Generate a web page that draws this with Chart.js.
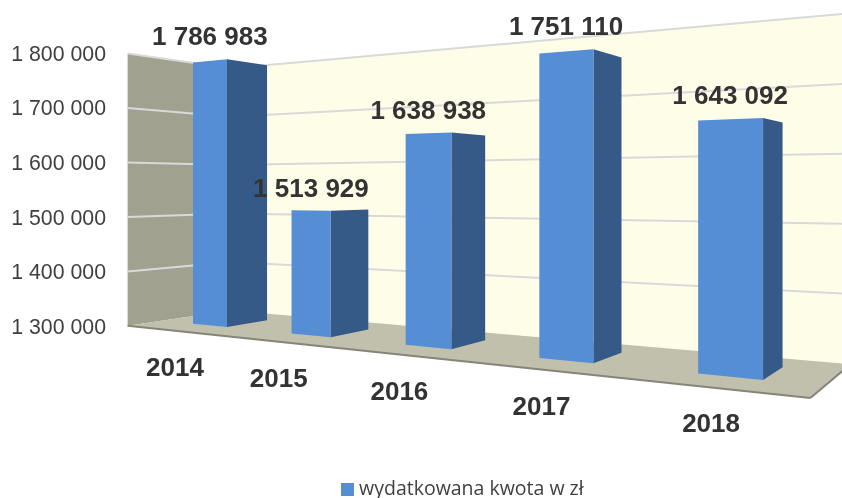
<!DOCTYPE html>
<html><head><meta charset="utf-8">
<style>html,body{margin:0;padding:0;background:#fff}#w{width:842px;height:498px;position:relative}</style>
<script src="https://cdn.jsdelivr.net/npm/chart.js@4"></script>
</head><body><div id="w"><canvas id="c"></canvas></div>
<script>
const categories = ['2014','2015','2016','2017','2018'];
const values = [1786983,1513929,1638938,1751110,1643092];
const seriesName = 'wydatkowana kwota w zł';
const axisMin = 1300000, axisMax = 1800000, axisStep = 100000;

const fmt = v => String(v).replace(/\B(?=(\d{3})+(?!\d))/g,' ');

// camera: (X in categories, Z in axis steps, D in bar depths) -> canvas px
function project(X,Z,D){
  const w = 1 - 0.07*X + 0.0504*D;
  return {x:(227+80.6*X+53.5*D)/w, y:(327-13.35*X-55*Z+9.4*D)/w};
}
const X0=-0.70, X1=4.32, Dfront=-0.78, Dback=1.71, barW=0.361;
const C = {back:'#fefee8',left:'#a1a190',floor:'#c0c0ac',edge:'#85857c',grid:'#d9d9d9',front:'#558ed5',side:'#355a87'};

function poly(ctx,pts,fill){
  ctx.beginPath();
  pts.forEach((p,i)=>i?ctx.lineTo(p.x,p.y):ctx.moveTo(p.x,p.y));
  ctx.closePath(); ctx.fillStyle=fill; ctx.fill();
}
function seg(ctx,a,b,col,lw){
  ctx.beginPath();ctx.moveTo(a.x,a.y);ctx.lineTo(b.x,b.y);ctx.strokeStyle=col;ctx.lineWidth=lw;ctx.stroke();
}
const zOf = (s,v)=>(s.bottom-s.getPixelForValue(v))/(s.bottom-s.top)*((axisMax-axisMin)/axisStep);
const xOf = (s,i)=>s.getDecimalForPixel(s.getPixelForValue(i))*s.ticks.length-0.5;

const legendSwatch = document.createElement('canvas');
legendSwatch.width=13; legendSwatch.height=13;
{const g=legendSwatch.getContext('2d'); g.fillStyle=C.front; g.fillRect(0,0,13,13);}

const persp = {
  id:'persp',
  afterDatasetsUpdate(chart){
    const ys=chart.scales.y, xs=chart.scales.x, meta=chart.getDatasetMeta(0);
    meta.data.forEach((el,i)=>{
      const X=xOf(xs,i), Z=zOf(ys,values[i]);
      const tl=project(X-barW,Z,0), tr=project(X,Z,0), br=project(X,0,0), bl=project(X-barW,0,0);
      const tb=project(X,Z,1), bb=project(X,0,1);
      el.x=(tl.x+tr.x)/2; el.width=tr.x-tl.x; el.y=tr.y; el.base=br.y;
      el.draw=function(ctx){
        poly(ctx,[tr,tb,bb,br],C.side);
        poly(ctx,[tl,tr,br,bl],this.options.backgroundColor);
      };
    });
  },
  beforeDatasetsDraw(chart){
    const ctx=chart.ctx, ys=chart.scales.y;
    const n=(axisMax-axisMin)/axisStep;
    ctx.save();
    poly(ctx,[project(X0,0,Dback),project(X1,0,Dback),project(X1,n,Dback),project(X0,n,Dback)],C.back);
    poly(ctx,[project(X0,0,Dfront),project(X0,0,Dback),project(X0,n,Dback),project(X0,n,Dfront)],C.left);
    poly(ctx,[project(X0,0,Dfront),project(X0,0,Dback),project(X1,0,Dback),project(X1,0,Dfront)],C.floor);
    ys.ticks.forEach(t=>{
      const Z=zOf(ys,t.value);
      if(Z<0.01) return;
      const a=project(X0,Z,Dfront), b=project(X0,Z,Dback), c=project(X1,Z,Dback);
      seg(ctx,a,b,C.grid,2); seg(ctx,b,c,C.grid,2);
    });
    const f=project(X0,0,Dfront), g=project(X1,0,Dfront), h=project(X1,0,Dback);
    seg(ctx,f,g,C.edge,2); seg(ctx,g,h,C.edge,2);
    ctx.restore();
  },
  afterDatasetsDraw(chart){
    const ctx=chart.ctx, ys=chart.scales.y, xs=chart.scales.x;
    ctx.save();
    ctx.textAlign='center'; ctx.textBaseline='middle'; ctx.fillStyle='#333333';
    ctx.font='bold 26px "Liberation Sans"';
    values.forEach((v,i)=>{
      const X=xOf(xs,i), p=project(X-0.18,zOf(ys,v),0), q=project(X,zOf(ys,v),0);
      ctx.fillText(fmt(v),p.x,q.y-21);
    });
    categories.forEach((c,i)=>{
      const X=xOf(xs,i), p=project(X,0,0);
      ctx.fillText(c,p.x-52,p.y+42+0.75*X);
    });
    ctx.restore();
  },
  beforeDraw(chart){
    const l=chart.legend;
    if(!l._shifted){l.left+=44;l.right+=44;l.top+=11;l.bottom+=11;l._shifted=true;}
  }
};

new Chart(document.getElementById('c'),{
  type:'bar',
  data:{labels:categories,datasets:[{label:seriesName,data:values,backgroundColor:C.front,borderWidth:0,clip:false}]},
  plugins:[persp],
  options:{
    responsive:true,maintainAspectRatio:false,animation:false,
    layout:{padding:{top:53,left:0,right:0,bottom:0}},
    scales:{
      x:{grid:{display:false,drawTicks:false},border:{display:false},ticks:{display:false},
         afterFit(s){s.height=134.5;}},
      y:{min:axisMin,max:axisMax,grid:{display:false,drawTicks:false},border:{display:false},
         ticks:{stepSize:axisStep,padding:23,labelOffset:2,color:'#404040',font:{family:'"Liberation Sans"',size:21.3},callback:v=>fmt(v)},
         afterFit(s){s.width=129;}}
    },
    plugins:{
      tooltip:{enabled:false},
      legend:{position:'bottom',labels:{usePointStyle:true,pointStyle:legendSwatch,pointStyleWidth:3,boxHeight:13,color:'#404040',padding:8,font:{family:'"Open Sans"',size:19.5}}}
    }
  }
});
</script></body></html>
